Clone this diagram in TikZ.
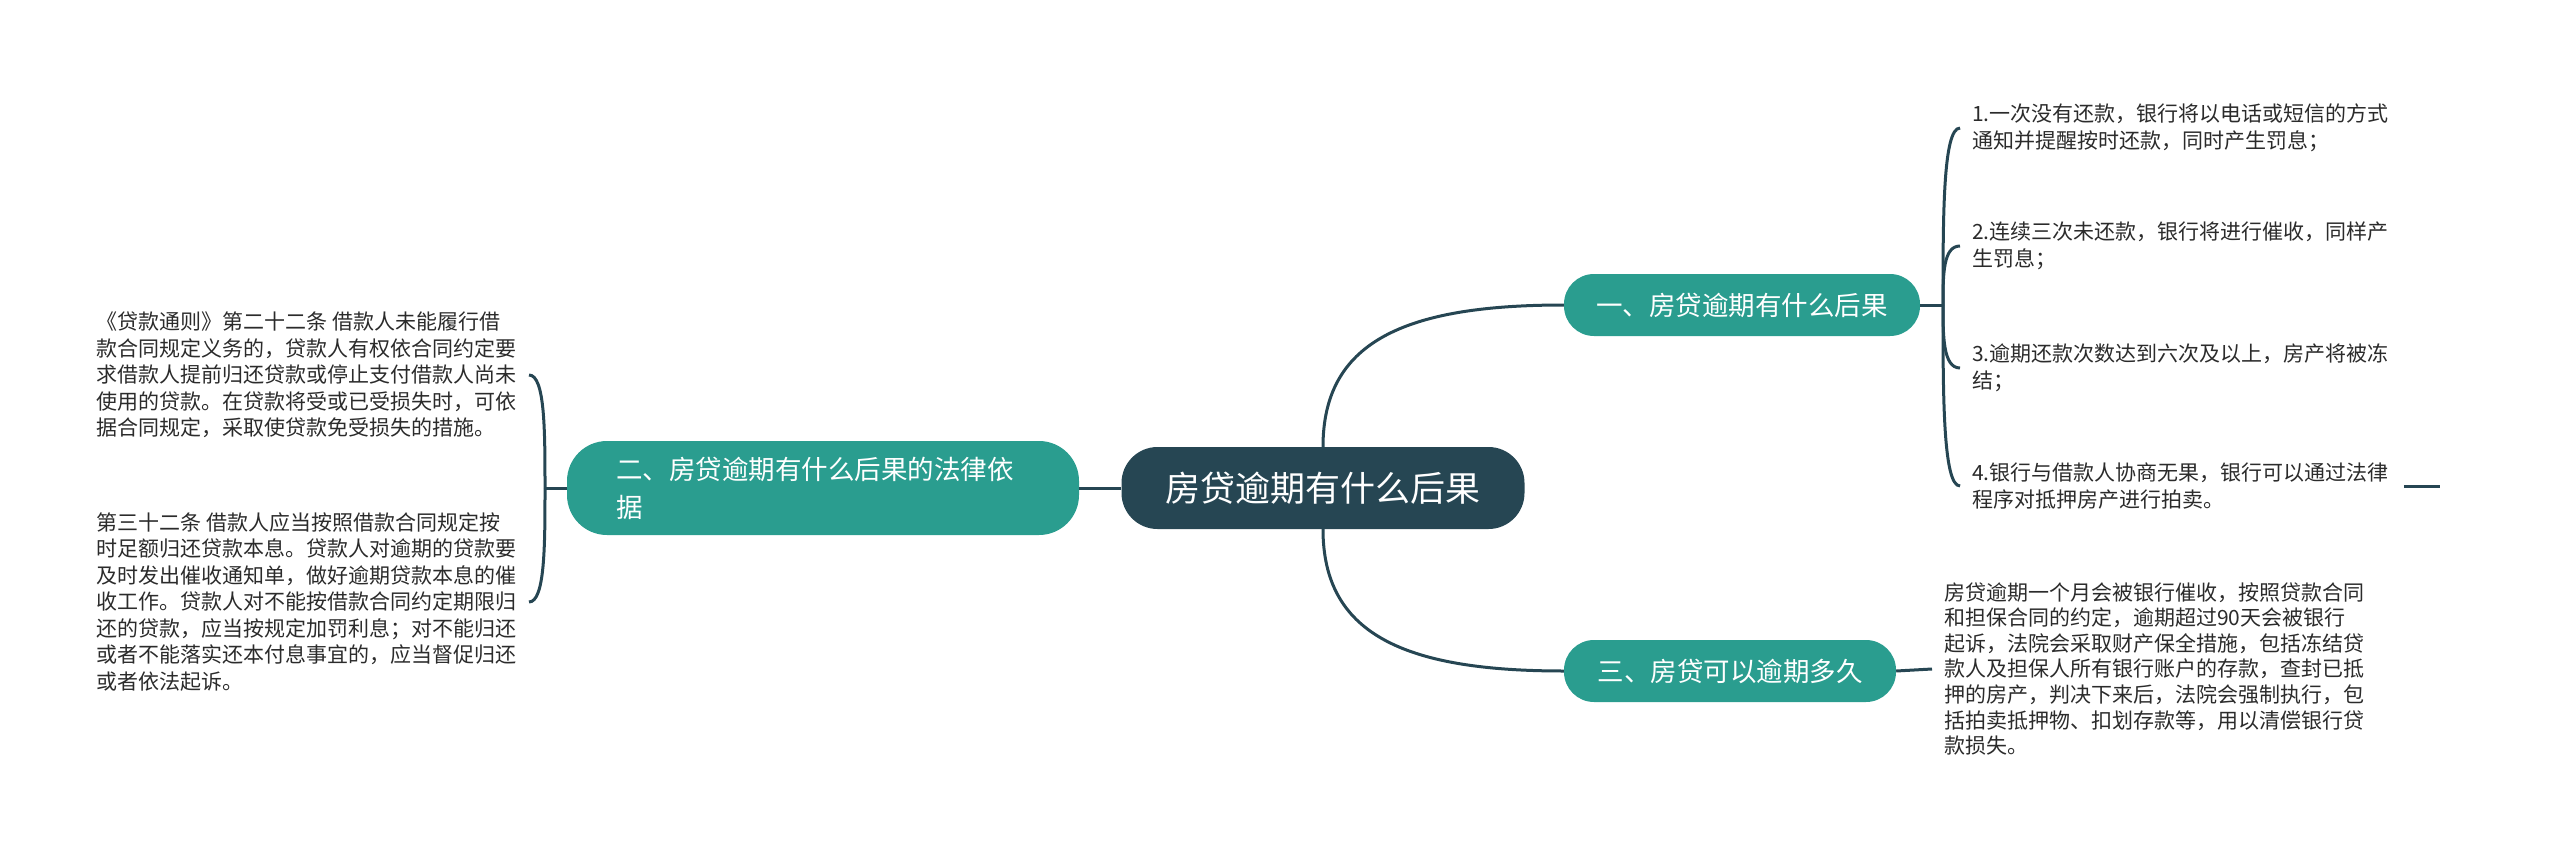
\documentclass[tikz,border=0pt]{standalone}
\usepackage{fontspec}
\setmainfont{Noto Sans CJK SC}
\definecolor{mmdark}{HTML}{264653}
\definecolor{mmteal}{HTML}{2A9D8F}
\definecolor{leafc}{HTML}{2B2B2B}
\begin{document}
\begin{tikzpicture}[x=1pt,y=-1pt,
  root/.style={fill=mmdark, text=white, rounded corners=36pt, minimum width=403pt, minimum height=82pt, inner sep=0pt, font=\fontsize{35}{42}\selectfont},
  branch/.style={fill=mmteal, text=white, rounded corners=30pt, minimum height=62pt, inner sep=0pt, font=\fontsize{26.5}{38}\selectfont},
  leaf/.style={align=left, inner xsep=12pt, inner ysep=0pt, text=leafc, font=\fontsize{21}{26.5}\selectfont},
  conn/.style={draw=mmdark, line width=3pt}]
\useasboundingbox (0,0) rectangle (2560,864);
% nodes
\node[root] (c) at (1323,488) {房贷逾期有什么后果};
\node[branch, minimum width=356pt] (b1) at (1742,305) {一、房贷逾期有什么后果};
\node[branch, minimum width=332pt] (b3) at (1730,671) {三、房贷可以逾期多久};
\node[branch, minimum height=94pt, rounded corners=40pt, align=left, text width=414pt, inner xsep=49pt] (b2) at (823,488) {二、房贷逾期有什么后果的法律依\\据};
% right leaves
\node[leaf, anchor=west] (r1) at (1960,128) {1.一次没有还款，银行将以电话或短信的方式\\通知并提醒按时还款，同时产生罚息；};
\node[leaf, anchor=west] (r2) at (1960,246) {2.连续三次未还款，银行将进行催收，同样产\\生罚息；};
\node[leaf, anchor=west] (r3) at (1960,368) {3.逾期还款次数达到六次及以上，房产将被冻\\结；};
\node[leaf, anchor=west] (r4) at (1960,486) {4.银行与借款人协商无果，银行可以通过法律\\程序对抵押房产进行拍卖。};
\node[leaf, anchor=west, font=\fontsize{21}{25.6}\selectfont] (r5) at (1932,669) {房贷逾期一个月会被银行催收，按照贷款合同\\和担保合同的约定，逾期超过90天会被银行\\起诉，法院会采取财产保全措施，包括冻结贷\\款人及担保人所有银行账户的存款，查封已抵\\押的房产，判决下来后，法院会强制执行，包\\括拍卖抵押物、扣划存款等，用以清偿银行贷\\款损失。};
% left leaves
\node[leaf, anchor=east] (la) at (529,375) {《贷款通则》第二十二条 借款人未能履行借\\款合同规定义务的，贷款人有权依合同约定要\\求借款人提前归还贷款或停止支付借款人尚未\\使用的贷款。在贷款将受或已受损失时，可依\\据合同规定，采取使贷款免受损失的措施。};
\node[leaf, anchor=east] (lb) at (529,602) {第三十二条 借款人应当按照借款合同规定按\\时足额归还贷款本息。贷款人对逾期的贷款要\\及时发出催收通知单，做好逾期贷款本息的催\\收工作。贷款人对不能按借款合同约定期限归\\还的贷款，应当按规定加罚利息；对不能归还\\或者不能落实还本付息事宜的，应当督促归还\\或者依法起诉。};
% junctions
\coordinate (jr) at (1943,305);
\coordinate (jl) at (545,488);
\coordinate (tailA) at ([xshift=3pt]r4.east);
\coordinate (tailB) at ([xshift=39pt]r4.east);
% connectors
\draw[conn] (c.north) .. controls (1323,343) and (1402,305) .. (b1.west);
\draw[conn] (c.south) .. controls (1323,633) and (1402,671) .. (b3.west);
\draw[conn] (c.west) -- (b2.east);
\draw[conn] (b1.east) -- (jr);
\draw[conn] (jr) .. controls (1943,216) and (1943,128) .. (r1.west);
\draw[conn] (jr) .. controls (1943,275) and (1943,246) .. (r2.west);
\draw[conn] (jr) .. controls (1943,336) and (1943,368) .. (r3.west);
\draw[conn] (jr) .. controls (1943,395) and (1943,486) .. (r4.west);
\draw[conn] (tailA) -- (tailB);
\draw[conn] (b3.east) -- (r5.west);
\draw[conn] (b2.west) -- (jl);
\draw[conn] (jl) .. controls (545,431) and (545,375) .. (la.east);
\draw[conn] (jl) .. controls (545,545) and (545,602) .. (lb.east);
\end{tikzpicture}
\end{document}
